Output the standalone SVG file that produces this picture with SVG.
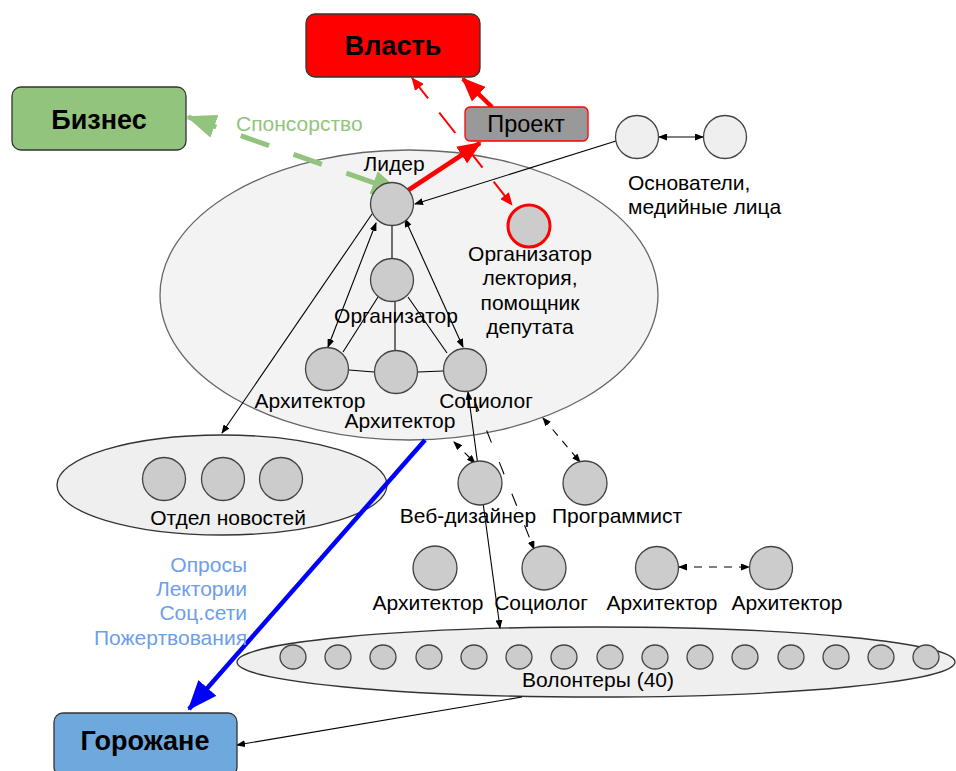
<svg xmlns="http://www.w3.org/2000/svg" width="956" height="771" viewBox="0 0 956 771">
<style>
text{font-family:"Liberation Sans",Arial,sans-serif;font-size:21px;fill:#000}
.c{text-anchor:middle}
.b{font-weight:bold;font-size:27px}
.node{fill:#cccccc;stroke:#434343;stroke-width:1.3}
.cont{fill:#f3f3f3;stroke:#666;stroke-width:1.3}
.thin{stroke:#000;stroke-width:1.1;fill:none}
.dash{stroke:#000;stroke-width:1.1;fill:none;stroke-dasharray:8 7}
.blue{fill:#6d9eeb;text-anchor:end}
</style>
<defs>
<marker id="ah" markerWidth="9" markerHeight="7" refX="8" refY="3.5" orient="auto-start-reverse" markerUnits="userSpaceOnUse"><path d="M0,0 L9,3.5 L0,7 z" fill="#000"/></marker>
<marker id="rh" markerWidth="24" markerHeight="20" refX="22" refY="10" orient="auto" markerUnits="userSpaceOnUse"><path d="M0,0 L24,10 L0,20 z" fill="#ff0000"/></marker>
<marker id="rs" markerWidth="13" markerHeight="11" refX="12" refY="5.5" orient="auto-start-reverse" markerUnits="userSpaceOnUse"><path d="M0,0 L13,5.5 L0,11 z" fill="#ff0000"/></marker>
<marker id="gh" markerWidth="30" markerHeight="24" refX="28" refY="12" orient="auto-start-reverse" markerUnits="userSpaceOnUse"><path d="M0,0 L30,12 L0,24 z" fill="#93c47d"/></marker>
<marker id="bh" markerWidth="30" markerHeight="24" refX="28" refY="12" orient="auto" markerUnits="userSpaceOnUse"><path d="M0,0 L30,12 L0,24 z" fill="#0000ff"/></marker>
</defs>
<rect width="956" height="771" fill="#fff"/>

<g id="team">
<ellipse class="cont" cx="409" cy="295" rx="249" ry="145"/>
</g>
<g id="news">
<ellipse cx="222" cy="485" rx="165" ry="50" fill="#efefef" stroke="#333" stroke-width="1.3"/>
<circle class="node" cx="164" cy="479" r="21.5"/>
<circle class="node" cx="223" cy="479" r="21.5"/>
<circle class="node" cx="281" cy="479" r="21.5"/>
<text class="c" x="228" y="525">Отдел новостей</text>
</g>
<g id="volunteers">
<ellipse cx="596" cy="662" rx="359" ry="35" fill="#efefef" stroke="#333" stroke-width="1.3"/>
<g class="node">
<ellipse cx="293" cy="657" rx="13" ry="12"/><ellipse cx="338" cy="657" rx="13" ry="12"/><ellipse cx="383" cy="657" rx="13" ry="12"/><ellipse cx="429" cy="657" rx="13" ry="12"/><ellipse cx="474" cy="657" rx="13" ry="12"/><ellipse cx="519" cy="657" rx="13" ry="12"/><ellipse cx="564" cy="657" rx="13" ry="12"/><ellipse cx="610" cy="657" rx="13" ry="12"/><ellipse cx="655" cy="657" rx="13" ry="12"/><ellipse cx="700" cy="657" rx="13" ry="12"/><ellipse cx="745" cy="657" rx="13" ry="12"/><ellipse cx="791" cy="657" rx="13" ry="12"/><ellipse cx="836" cy="657" rx="13" ry="12"/><ellipse cx="881" cy="657" rx="13" ry="12"/><ellipse cx="926" cy="657" rx="13" ry="12"/>
</g>
<text class="c" x="598" y="687">Волонтеры (40)</text>
</g>

<g id="connectors">
<line class="thin" x1="392" y1="226" x2="392" y2="259"/>
<line class="thin" x1="378" y1="297" x2="343" y2="352"/>
<line class="thin" x1="395" y1="301" x2="395" y2="350"/>
<line class="thin" x1="408" y1="297" x2="447" y2="353"/>
<line class="thin" x1="349" y1="370" x2="374" y2="372"/>
<line class="thin" x1="418" y1="372" x2="443" y2="371"/>
<line class="thin" x1="376" y1="223" x2="328" y2="347" marker-start="url(#ah)" marker-end="url(#ah)"/>
<line class="thin" x1="405" y1="219" x2="463" y2="347" marker-start="url(#ah)" marker-end="url(#ah)"/>
<line class="thin" x1="372" y1="214" x2="222" y2="433" marker-end="url(#ah)"/>
<line class="thin" x1="616" y1="141" x2="415" y2="204" marker-end="url(#ah)"/>
<line class="thin" x1="659" y1="137" x2="703" y2="137" marker-start="url(#ah)" marker-end="url(#ah)"/>
<line class="thin" x1="468" y1="392" x2="500" y2="628" marker-start="url(#ah)" marker-end="url(#ah)"/>
<line class="dash" x1="454" y1="442" x2="475" y2="463" marker-start="url(#ah)" marker-end="url(#ah)"/>
<line class="dash" x1="543" y1="418" x2="580" y2="462" marker-start="url(#ah)" marker-end="url(#ah)"/>
<line class="thin" x1="474" y1="399" x2="534" y2="549" stroke-dasharray="13 21" marker-end="url(#ah)"/>
<line class="dash" x1="679" y1="567" x2="749" y2="567" marker-start="url(#ah)" marker-end="url(#ah)"/>
<line class="thin" x1="522" y1="697" x2="237" y2="745" marker-end="url(#ah)"/>
<line x1="407" y1="191" x2="480" y2="143" stroke="#ff0000" stroke-width="4.5" marker-end="url(#rh)"/>
<line x1="492" y1="107" x2="463" y2="79" stroke="#ff0000" stroke-width="4.5" marker-end="url(#rh)"/>
<line x1="412" y1="78" x2="512" y2="205" stroke="#ff0000" stroke-width="2" stroke-dasharray="26 18" marker-start="url(#rs)" marker-end="url(#rs)"/>
<line x1="188" y1="117" x2="400" y2="192" stroke="#93c47d" stroke-width="5" stroke-dasharray="30 26" marker-start="url(#gh)" marker-end="url(#gh)"/>
<line x1="425" y1="440" x2="189" y2="709" stroke="#0000ff" stroke-width="4.5" marker-end="url(#bh)"/>
</g>

<g id="vlast">
<rect x="306" y="14" width="174" height="63" rx="9" fill="#ff0000" stroke="#333" stroke-width="1.3"/>
<text class="c b" x="393" y="55">Власть</text>
</g>
<g id="biznes">
<rect x="12" y="87" width="174" height="63" rx="9" fill="#93c47d" stroke="#333" stroke-width="1.3"/>
<text class="c b" x="99" y="129">Бизнес</text>
</g>
<g id="gorozhane">
<rect x="54" y="713" width="183" height="63" rx="9" fill="#6fa8dc" stroke="#333" stroke-width="1.3"/>
<text class="c b" x="145" y="750">Горожане</text>
</g>
<g id="proekt">
<rect x="465" y="107" width="123" height="34" rx="5" fill="#999999" stroke="#ff0000" stroke-width="1.3"/>
<text class="c" x="526" y="132" style="font-size:23.5px">Проект</text>
</g>
<text x="236" y="131" style="fill:#93c47d">Спонсорство</text>

<g id="lider">
<circle class="node" cx="392" cy="204" r="21.5"/>
<text class="c" x="394" y="171">Лидер</text>
</g>
<g id="organizator">
<circle class="node" cx="392" cy="280" r="21.5"/>
<text class="c" x="396" y="323">Организатор</text>
</g>
<g id="arch1">
<circle class="node" cx="327" cy="369" r="21.5"/>
<text class="c" x="310" y="408">Архитектор</text>
</g>
<g id="arch2">
<circle class="node" cx="396" cy="372" r="21.5"/>
<text class="c" x="400" y="428">Архитектор</text>
</g>
<g id="sociolog1">
<circle class="node" cx="465" cy="370" r="21.5"/>
<text class="c" x="486" y="408">Социолог</text>
</g>
<g id="org-lect">
<circle cx="529" cy="226" r="21" fill="#cccccc" stroke="#ff0000" stroke-width="3"/>
<text class="c" x="530" y="261">Организатор</text>
<text class="c" x="530" y="285">лектория,</text>
<text class="c" x="530" y="310">помощник</text>
<text class="c" x="530" y="334">депутата</text>
</g>
<g id="founders">
<circle cx="637" cy="137" r="21.5" fill="#efefef" stroke="#434343" stroke-width="1.3"/>
<circle cx="725" cy="137" r="21.5" fill="#efefef" stroke="#434343" stroke-width="1.3"/>
<text x="628" y="190">Основатели,</text>
<text x="628" y="214">медийные лица</text>
</g>
<g id="webdesigner">
<circle class="node" cx="480" cy="483" r="22"/>
<text class="c" x="468" y="523">Веб-дизайнер</text>
</g>
<g id="programmer">
<circle class="node" cx="585" cy="483" r="22"/>
<text class="c" x="617" y="523">Программист</text>
</g>
<g id="arch3">
<circle class="node" cx="435" cy="568" r="22"/>
<text class="c" x="428" y="610">Архитектор</text>
</g>
<g id="sociolog2">
<circle class="node" cx="544" cy="568" r="22"/>
<text class="c" x="541" y="610">Социолог</text>
</g>
<g id="arch4">
<circle class="node" cx="657" cy="568" r="21.5"/>
<text class="c" x="662" y="610">Архитектор</text>
</g>
<g id="arch5">
<circle class="node" cx="771" cy="568" r="21.5"/>
<text class="c" x="787" y="610">Архитектор</text>
</g>
<g id="channels">
<text class="blue" x="247" y="572">Опросы</text>
<text class="blue" x="247" y="596">Лектории</text>
<text class="blue" x="247" y="620">Соц.сети</text>
<text class="blue" x="247" y="645">Пожертвования</text>
</g>
</svg>
